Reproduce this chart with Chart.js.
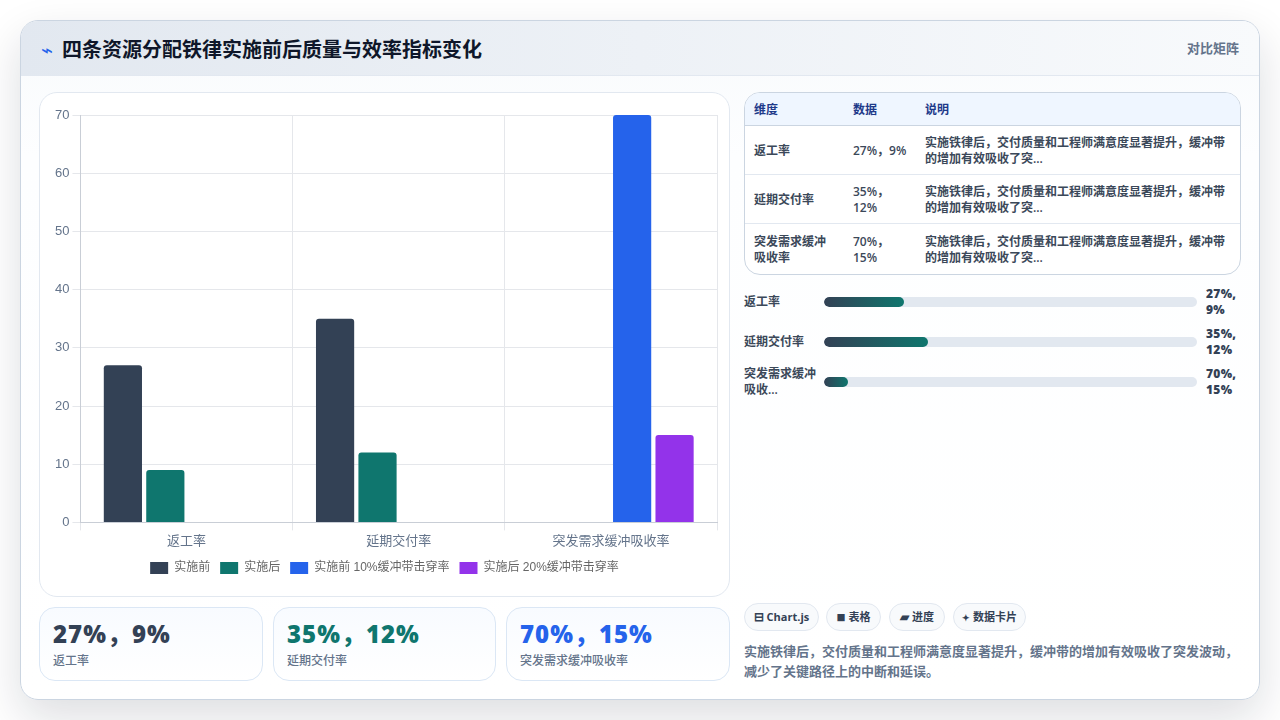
<!DOCTYPE html>
<html lang="zh">
<head>
<meta charset="utf-8">
<title>四条资源分配铁律</title>
<script src="https://cdn.jsdelivr.net/npm/chart.js@4"></script>
<style>
* { box-sizing: border-box; margin: 0; padding: 0; }
html, body { width: 1280px; height: 720px; overflow: hidden; background: #fff; }
body { font-family: "Open Sans", "Noto Sans CJK SC", sans-serif; color: #1f2937; position: relative; }
.card {
  position: absolute; left: 20px; top: 20px; width: 1240px; height: 680px;
  border-radius: 18px; border: 1px solid #cbd5e1; overflow: hidden;
  background: linear-gradient(180deg, #f8fafc, #fdfeff 20%, #ffffff);
}
.shadow {
  position: absolute; left: 20px; top: 20px; width: 1240px; height: 680px; border-radius: 18px;
  box-shadow: 0 18px 45px rgba(15, 23, 42, 0.14);
}
.head {
  position: absolute; left: 0; top: 0; right: 0; height: 55px;
  background: linear-gradient(90deg, #e2e8f0, #f8fafc);
  border-bottom: 1px solid #e2e8f0;
}
.head h1 { position: absolute; left: 41px; top: 14px; font-size: 20px; line-height: 30px; font-weight: 700; color: #0f172a; }
.head .bolt { position: absolute; left: 20px; top: 19px; font-size: 20px; line-height: 20px; color: #2563eb; }
.head .tag { position: absolute; right: 20px; top: 17px; font-size: 13px; line-height: 20px; font-weight: 600; color: #64748b; }
.chart-box {
  position: absolute; left: 18px; top: 71px; width: 691px; height: 505px;
  background: #fff; border: 1px solid #e2e8f0; border-radius: 18px;
}
#chart { position: absolute; left: 0; top: 0; }
.stat {
  position: absolute; top: 586px; height: 74px; border: 1px solid #dbe7f5; border-radius: 16px;
  background: linear-gradient(180deg, #f8fbff, #ffffff);
}
.stat b { position: absolute; left: 13px; top: 8px; font-size: 24px; line-height: 36px; font-weight: 800; letter-spacing: 1px; white-space: nowrap; }
.stat span { position: absolute; left: 13px; top: 44px; font-size: 12px; line-height: 18px; font-weight: 500; color: #64748b; white-space: nowrap; }
table {
  position: absolute; left: 723px; top: 71px; width: 497px; height: 183px;
  border: 1px solid #cbd5e1; border-radius: 16px; border-collapse: separate; border-spacing: 0;
  background: #fff; font-size: 12px; line-height: 16px; font-weight: 600; color: #3b4859; overflow: hidden; table-layout: fixed;
}
th { height: 33px; padding: 2px 10px 0 9px; background: #eff6ff; color: #1e3a8a; text-align: left; border-bottom: 1px solid #cbd5e1; font-weight: 700; }
td { padding: 2px 4px 0 9px; border-bottom: 1px solid #e2e8f0; vertical-align: middle; }
td:first-child { padding-right: 14px; }
td:last-child { padding-right: 10px; }
tr:last-child td { border-bottom: 0; }
.row { position: absolute; left: 723px; width: 497px; }
.row .name { position: absolute; left: 0; top: 50%; transform: translateY(-50%); width: 76px; font-size: 12px; line-height: 16px; font-weight: 600; color: #3b4859; }
.row .track { position: absolute; left: 80px; top: 50%; margin-top: -5px; width: 373px; height: 10px; border-radius: 5px; background: #e2e8f0; overflow: hidden; }
.row .fill { height: 10px; border-radius: 5px; background: linear-gradient(90deg, #334155, #0f766e); }
.row .val { position: absolute; left: 462px; top: 50%; transform: translateY(-50%); width: 36px; font-size: 12px; line-height: 16px; font-weight: 800; letter-spacing: 0.3px; color: #334155; }
.chips span { position: absolute; top: 582px; height: 28px; line-height: 26px; text-align: center; border: 1px solid #e2e8f0; border-radius: 14px; background: #f8fafc; font-size: 11px; font-weight: 700; color: #334155; white-space: nowrap; }
.chips i { font-style: normal; font-size: 9px; }
.chips i.big { font-size: 12px; }
.note { position: absolute; left: 723px; top: 620px; width: 497px; font-size: 13px; line-height: 20px; font-weight: 600; color: #64748b; }
</style>
</head>
<body>
<div class="shadow"></div>
<div class="card">
  <div class="head">
    <span class="bolt">⌁</span>
    <h1>四条资源分配铁律实施前后质量与效率指标变化</h1>
    <span class="tag">对比矩阵</span>
  </div>
  <div class="chart-box"><canvas id="chart" width="689" height="503"></canvas></div>
  <div id="stats"></div>
  <table id="tbl"></table>
  <div id="bars"></div>
  <div class="chips">
    <span style="left:723px;width:75px"><i class="big">⊟</i> Chart.js</span>
    <span style="left:805px;width:55px"><i>■</i> 表格</span>
    <span style="left:868px;width:56px"><i class="big">▰</i> 进度</span>
    <span style="left:932px;width:73px"><i>✦</i> 数据卡片</span>
  </div>
  <div class="note" id="note"></div>
</div>
<script>
var categories = ['返工率', '延期交付率', '突发需求缓冲吸收率'];
var tableNames = ['返工率', '延期交付率', '突发需求缓冲吸收率'];
var barNames = ['返工率', '延期交付率', '突发需求缓冲吸收...'];
var seriesNames = ['实施前', '实施后', '实施前 10%缓冲带击穿率', '实施后 20%缓冲带击穿率'];
var before = [27, 35, null];
var after = [9, 12, null];
var beforeBuffer = [null, null, 70];
var afterBuffer = [null, null, 15];
var seriesColors = ['#334155', '#0f766e', '#2563eb', '#9333ea'];
var statLabels = ['27%，9%', '35%，12%', '70%，15%'];
var statColors = ['#334155', '#0f766e', '#2563eb'];
var progress = [21.5, 28, 6.5];
var summary = '实施铁律后，交付质量和工程师满意度显著提升，缓冲带的增加有效吸收了突发波动，减少了关键路径上的中断和延误。';
var shortSummary = '实施铁律后，交付质量和工程师满意度显著提升，缓冲带的增加有效吸收了突...';

// stat cards under the chart
var statLeft = [18, 252, 485];
var statWidth = [224, 223, 224];
var statsHtml = '';
for (var i = 0; i < 3; i++) {
  statsHtml += '<div class="stat" style="left:' + statLeft[i] + 'px;width:' + statWidth[i] + 'px"><b style="color:' + statColors[i] + '">' + statLabels[i] + '</b><span>' + categories[i] + '</span></div>';
}
document.getElementById('stats').innerHTML = statsHtml;

// table
var rowHeights = [49, 49, 50];
var tbl = '<colgroup><col style="width:99px"><col style="width:72px"><col></colgroup><tr><th>维度</th><th>数据</th><th>说明</th></tr>';
for (var j = 0; j < 3; j++) {
  tbl += '<tr style="height:' + rowHeights[j] + 'px"><td>' + tableNames[j] + '</td><td>' + statLabels[j] + '</td><td>' + shortSummary + '</td></tr>';
}
document.getElementById('tbl').innerHTML = tbl;

// progress rows
var rowTops = [261, 301, 341];
var rows = '';
for (var k = 0; k < 3; k++) {
  rows += '<div class="row" style="top:' + rowTops[k] + 'px;height:40px"><div class="name">' + barNames[k] + '</div><div class="track"><div class="fill" style="width:' + progress[k] + '%"></div></div><div class="val">' + statLabels[k].replace('，', ', ') + '</div></div>';
}
document.getElementById('bars').innerHTML = rows;
document.getElementById('note').textContent = summary;

function makeSet(index, values) {
  return {
    label: seriesNames[index],
    data: values,
    backgroundColor: seriesColors[index],
    borderRadius: 3
  };
}

var chartFont = '"Liberation Sans", "Noto Sans CJK SC", sans-serif';
var ctx = document.getElementById('chart').getContext('2d');
var myChart = new Chart(ctx, {
  type: 'bar',
  data: {
    labels: categories,
    datasets: [makeSet(0, before), makeSet(1, after), makeSet(2, beforeBuffer), makeSet(3, afterBuffer)]
  },
  options: {
    responsive: false,
    animation: false,
    layout: { padding: { left: 12, right: 12, top: 22, bottom: 12 } },
    plugins: {
      legend: {
        position: 'bottom',
        labels: { boxWidth: 18, boxHeight: 12, padding: 10, color: '#666666', font: { family: chartFont, size: 12 } }
      }
    },
    scales: {
      x: {
        grid: { color: '#e5e7eb' },
        border: { color: '#c9ced6' },
        ticks: { color: '#64748b', font: { family: chartFont, size: 13 } }
      },
      y: {
        beginAtZero: true,
        grid: { color: '#e5e7eb' },
        border: { color: '#c9ced6' },
        ticks: { color: '#64748b', stepSize: 10, font: { family: chartFont, size: 13 } }
      }
    }
  }
});
</script>
</body>
</html>
